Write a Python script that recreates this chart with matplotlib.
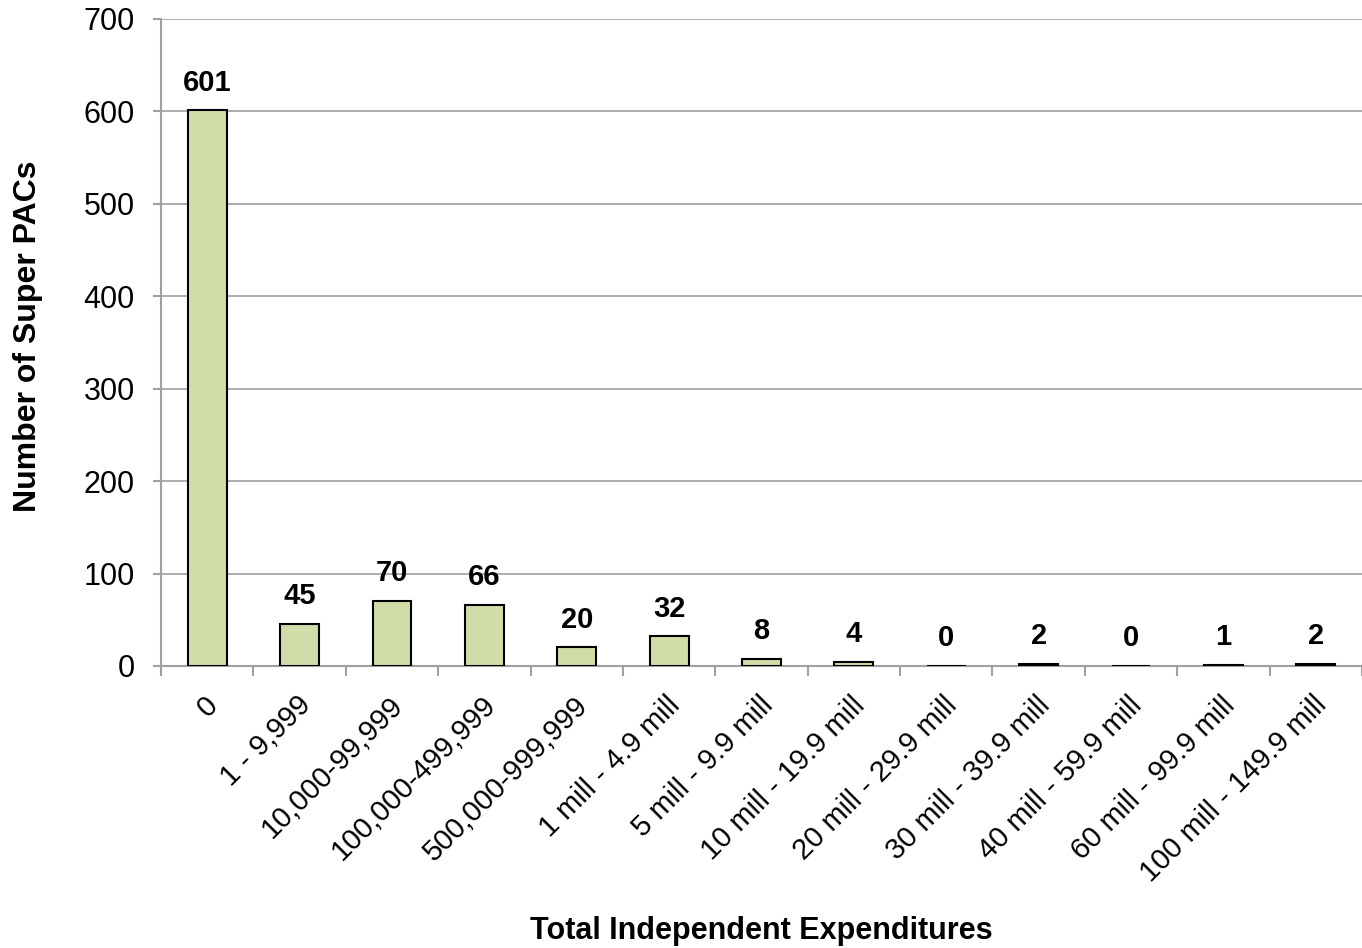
import numpy as np
import matplotlib.pyplot as plt
import matplotlib.transforms as mtransforms

plt.rcParams['font.family'] = ['Liberation Sans', 'DejaVu Sans']

categories = ['0', '1 - 9,999', '10,000-99,999', '100,000-499,999', '500,000-999,999',
              '1 mill - 4.9 mill', '5 mill - 9.9 mill', '10 mill - 19.9 mill',
              '20 mill - 29.9 mill', '30 mill - 39.9 mill', '40 mill - 59.9 mill',
              '60 mill - 99.9 mill', '100 mill - 149.9 mill']
counts = [601, 45, 70, 66, 20, 32, 8, 4, 0, 2, 0, 1, 2]

fig = plt.figure(figsize=(13.62, 9.48), dpi=100)
ax = fig.add_axes([0.1182, 0.2975, 0.8818, 0.6825])

x = np.arange(len(categories))
ax.bar(x, counts, width=0.42, color='#d0dda8', edgecolor='black', linewidth=1.5, zorder=3)

for xi, v in zip(x, counts):
    ax.annotate(str(v), (xi, v), xytext=(0, 10), textcoords='offset points',
                ha='center', va='bottom', fontsize=21, fontweight='bold')

ax.set_ylim(0, 700)
ax.set_yticks(range(0, 701, 100))
ax.set_xlim(-0.5, 12.37)
ax.grid(axis='y', color='#a0a0a0', linewidth=1.2, zorder=0)

ax.set_xticks(x)
ax.set_xticklabels(categories, rotation=45, ha='right', rotation_mode='anchor', fontsize=21)
ax.tick_params(axis='x', which='major', length=0, pad=18)
# nudge the rotated labels a little to the left
shift = mtransforms.ScaledTranslation(-3 / 100, 0, fig.dpi_scale_trans)
for lbl in ax.get_xticklabels():
    lbl.set_transform(lbl.get_transform() + shift)
ax.set_xticks(np.arange(-0.5, 12.6, 1), minor=True)
ax.tick_params(axis='x', which='minor', length=7, width=1.5, color='#a0a0a0')
ax.tick_params(axis='y', labelsize=22, length=6, width=1.5, color='#a0a0a0', pad=13)

for s in ['top', 'right']:
    ax.spines[s].set_visible(False)
for s in ['left', 'bottom']:
    ax.spines[s].set_color('#a0a0a0')
    ax.spines[s].set_linewidth(1.5)

fig.text(0.0206, 0.645, 'Number of Super PACs', rotation=90, ha='center', va='center',
         fontsize=23, fontweight='bold')
fig.text(0.559, 0.018, 'Total Independent Expenditures', ha='center', va='center',
         fontsize=22, fontweight='bold')

plt.savefig('out.png', dpi=100)
